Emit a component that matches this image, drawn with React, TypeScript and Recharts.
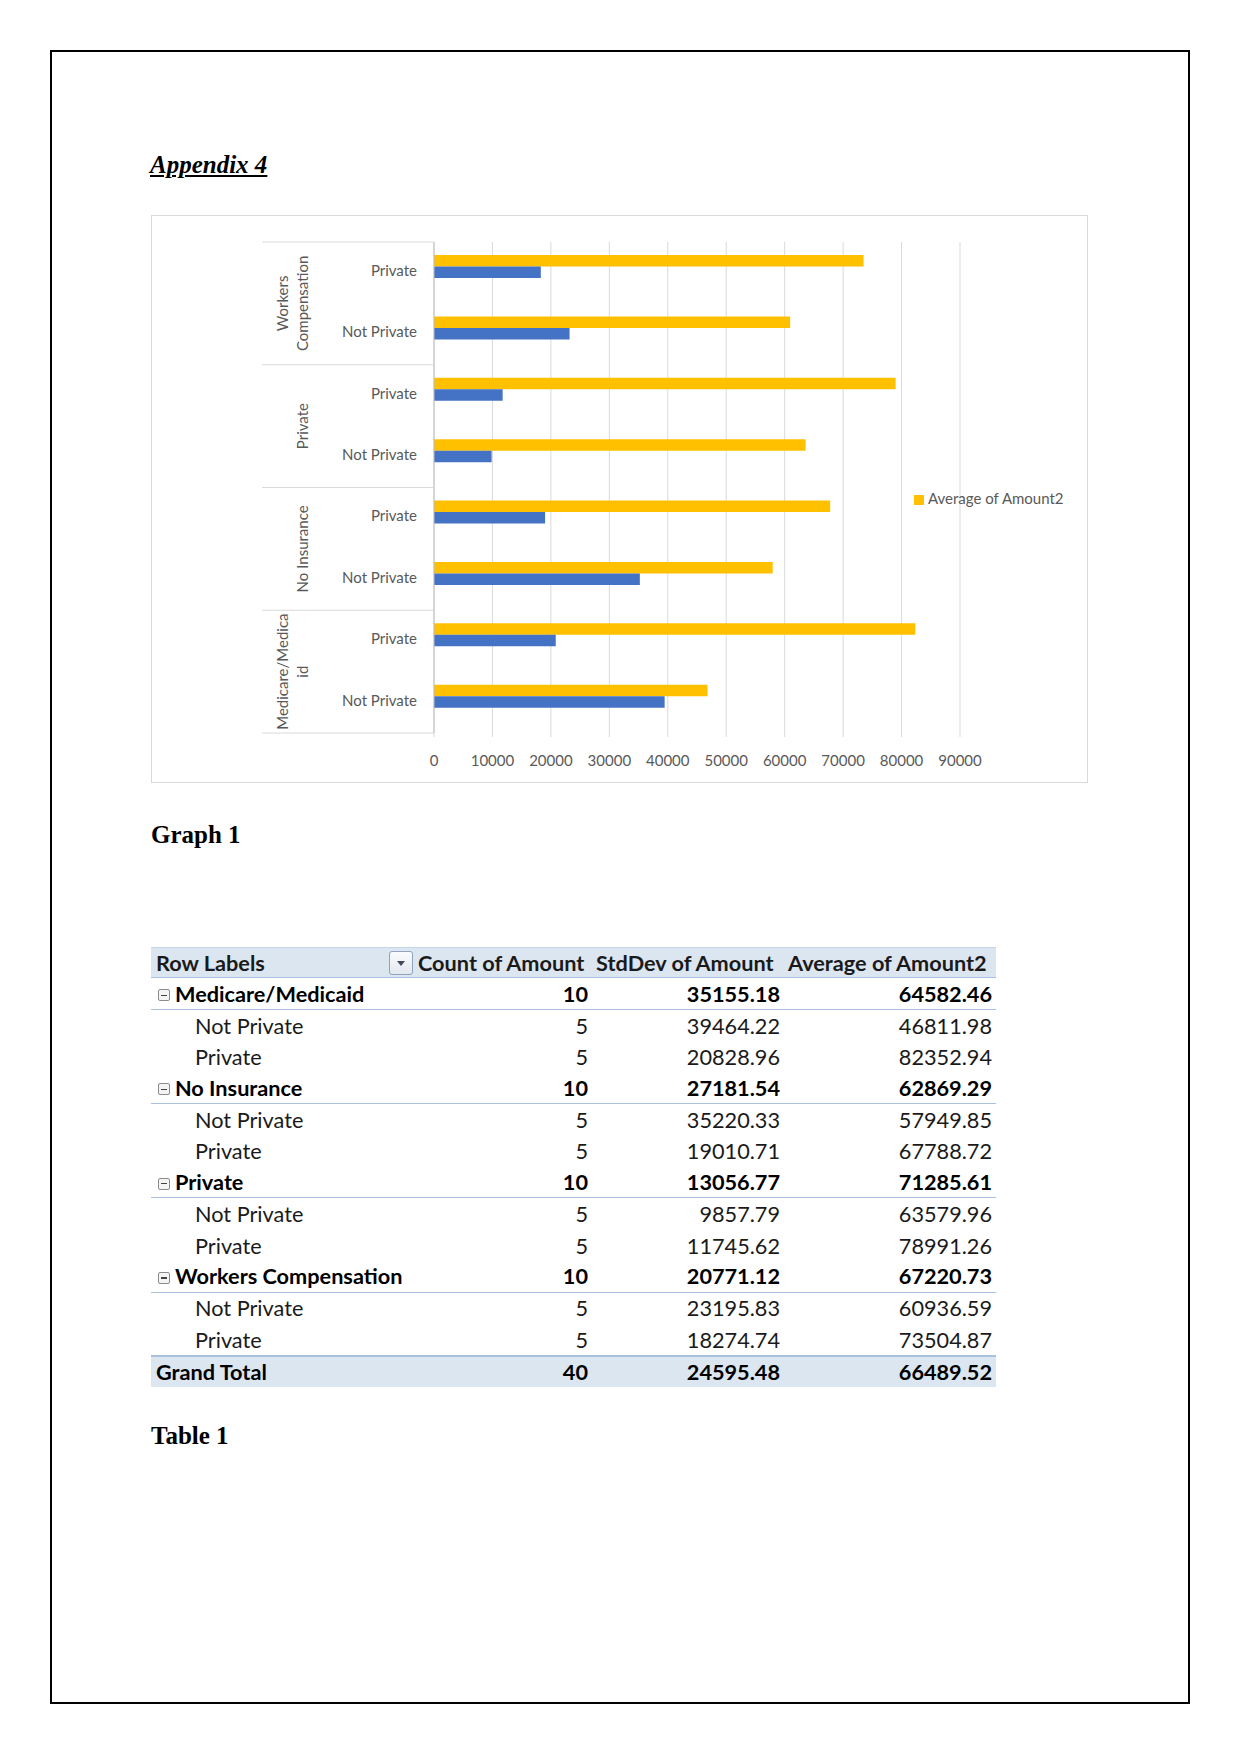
import React from "react";
import { BarChart, Bar, XAxis, YAxis, CartesianGrid, Legend } from "recharts";

// chart rows, top to bottom (as drawn)
const payerGroups = [["Workers", "Compensation"], ["Private"], ["No Insurance"], ["Medicare/Medica", "id"]];
const planTypes = ["Private", "Not Private"];
const averageOfAmount2 = [73504.87, 60936.59, 78991.26, 63579.96, 67788.72, 57949.85, 82352.94, 46811.98];
const stdDevOfAmount = [18274.74, 23195.83, 11745.62, 9857.79, 19010.71, 35220.33, 20828.96, 39464.22];
const countOfAmountBars = [5, 5, 5, 5, 5, 5, 5, 5];
const valueTicks = [0, 10000, 20000, 30000, 40000, 50000, 60000, 70000, 80000, 90000];

// pivot table
const tableHeaders = ["Row Labels", "Count of Amount", "StdDev of Amount", "Average of Amount2"];
const rowLabels = [
  "Medicare/Medicaid", "Not Private", "Private",
  "No Insurance", "Not Private", "Private",
  "Private", "Not Private", "Private",
  "Workers Compensation", "Not Private", "Private",
  "Grand Total",
];
const rowLevels = [0, 1, 1, 0, 1, 1, 0, 1, 1, 0, 1, 1, 2];
const countOfAmount = [10, 5, 5, 10, 5, 5, 10, 5, 5, 10, 5, 5, 40];
const stdDevColumn = [35155.18, 39464.22, 20828.96, 27181.54, 35220.33, 19010.71, 13056.77, 9857.79, 11745.62, 20771.12, 23195.83, 18274.74, 24595.48];
const averageColumn = [64582.46, 46811.98, 82352.94, 62869.29, 57949.85, 67788.72, 71285.61, 63579.96, 78991.26, 67220.73, 60936.59, 73504.87, 66489.52];

const data = averageOfAmount2.map((avg, i) => ({
  key: String(i),
  sub: planTypes[i % 2],
  group: Math.floor(i / 2),
  avg,
  std: stdDevOfAmount[i],
  count: countOfAmountBars[i],
}));

const CHART_W = 935;
const CHART_H = 566;
const PLOT_LEFT = 282;
const PLOT_TOP = 26;
const PLOT_BOTTOM = 517;
const PLOT_RIGHT = 808;
const BAND = (PLOT_BOTTOM - PLOT_TOP) / data.length;
const LABEL = "#595959";
const AXIS_FONT = "Lato, 'Open Sans', sans-serif";

const CategoryTick = (props: any) => {
  const { y, payload } = props;
  const i = Number(payload.value);
  const row = data[i];
  const lines = payerGroups[row.group];
  const top = y - BAND / 2;
  return (
    <g fontFamily={AXIS_FONT} fontSize={15} fill={LABEL}>
      <text x={PLOT_LEFT - 17} y={y - 2} dy="0.35em" textAnchor="end">{row.sub}</text>
      {i % 2 === 0 && (
        <g>
          <line x1={PLOT_LEFT - 172} x2={PLOT_LEFT} y1={top} y2={top} stroke="#d9d9d9" />
          {lines.map((t, k) => {
            const cx = PLOT_LEFT - 131 - (lines.length - 1 - k) * 20;
            const cy = y + BAND / 2;
            return (
              <text key={k} x={cx} y={cy} dy="0.35em" textAnchor="middle" transform={`rotate(-90, ${cx}, ${cy})`}>
                {t}
              </text>
            );
          })}
        </g>
      )}
      {i === data.length - 1 && (
        <line x1={PLOT_LEFT - 172} x2={PLOT_LEFT} y1={y + BAND / 2} y2={y + BAND / 2} stroke="#d9d9d9" />
      )}
    </g>
  );
};

const MinusBox = () => (
  <span style={{ display: "inline-block", width: 12, height: 12, border: "1px solid #8c8c8c", borderRadius: 2, position: "relative", marginRight: 5, background: "#f4f4f4", verticalAlign: "middle", boxSizing: "border-box", top: -1 }}>
    <span style={{ position: "absolute", left: 2, right: 2, top: 4.5, height: 1.2, background: "#444" }} />
  </span>
);

const COLS = [262, 179, 192, 212];
const ROW_H = 440 / 14;

function PivotTable() {
  const font = "Lato, 'Open Sans', sans-serif";
  const cell = (w: number, align: "left" | "right", content: React.ReactNode, extra: React.CSSProperties = {}) => (
    <div style={{ width: w, textAlign: align, padding: align === "right" ? "0 4px 0 0" : "0 0 0 5px", boxSizing: "border-box", whiteSpace: "nowrap", ...extra }}>
      {content}
    </div>
  );
  return (
    <div style={{ position: "absolute", left: 151, top: 947, width: 845, fontFamily: font, fontSize: 21.7, color: "#1a1a1a" }}>
      <div style={{ display: "flex", alignItems: "center", height: ROW_H, background: "#dce6f1", borderTop: "1px solid #c5d5ea", borderBottom: "1px solid #a9c0de", boxSizing: "border-box", fontWeight: 700 }}>
        <div style={{ width: COLS[0], position: "relative", paddingLeft: 5, boxSizing: "border-box" }}>
          {tableHeaders[0]}
          <span style={{ position: "absolute", right: 0, top: "50%", marginTop: -12, width: 24, height: 24, border: "1px solid #8ea3bd", borderRadius: 3, background: "linear-gradient(#fafbfd, #e3e8ef)", boxSizing: "border-box" }}>
            <span style={{ position: "absolute", left: 7, top: 9, width: 0, height: 0, borderLeft: "4px solid transparent", borderRight: "4px solid transparent", borderTop: "5px solid #404a5a" }} />
          </span>
        </div>
        {cell(COLS[1], "left", tableHeaders[1])}
        {cell(COLS[2], "left", tableHeaders[2], { paddingLeft: 4 })}
        {cell(COLS[3], "left", tableHeaders[3], { paddingLeft: 4 })}
      </div>
      {rowLabels.map((label, i) => {
        const lvl = rowLevels[i];
        const style: React.CSSProperties = { display: "flex", alignItems: "center", height: ROW_H, boxSizing: "border-box" };
        if (lvl === 0) { style.fontWeight = 700; style.borderBottom = "1px solid #a9c0de"; style.color = "#000"; }
        if (lvl === 2) { style.fontWeight = 700; style.background = "#dce6f1"; style.borderTop = "2px solid #a9c0de"; style.color = "#000"; }
        return (
          <div key={i} style={style}>
            <div style={{ width: COLS[0], paddingLeft: lvl === 0 ? 7 : lvl === 1 ? 44 : 5, boxSizing: "border-box", whiteSpace: "nowrap" }}>
              {lvl === 0 && <MinusBox />}
              {label}
            </div>
            {cell(COLS[1], "right", String(countOfAmount[i]))}
            {cell(COLS[2], "right", stdDevColumn[i].toFixed(2))}
            {cell(COLS[3], "right", averageColumn[i].toFixed(2))}
          </div>
        );
      })}
    </div>
  );
}

export default function App() {
  const heading: React.CSSProperties = { position: "absolute", left: 150, fontSize: 25, lineHeight: "25px", fontWeight: 700, fontFamily: "'Liberation Serif', 'Times New Roman', serif", color: "#000", margin: 0 };
  return (
    <div style={{ position: "absolute", left: 0, top: 0, width: 1241, height: 1754, background: "#fff" }}>
      <div style={{ position: "absolute", left: 50, top: 50, width: 1140, height: 1654, border: "2px solid #000", boxSizing: "border-box" }} />
      <div style={{ ...heading, top: 152, fontStyle: "italic", textDecoration: "underline" }}>Appendix 4</div>

      <div style={{ position: "absolute", left: 151, top: 215, width: 937, height: 568, border: "1px solid #d9d9d9", boxSizing: "border-box", background: "#fff" }}>
        <BarChart
          width={CHART_W}
          height={CHART_H}
          data={data}
          layout="vertical"
          margin={{ top: PLOT_TOP, right: CHART_W - PLOT_RIGHT, bottom: 0, left: 0 }}
          barGap={0}
          barSize={11.5}
        >
          <CartesianGrid horizontal={false} stroke="#d9d9d9" />
          <XAxis
            type="number"
            domain={[0, 90000]}
            ticks={valueTicks}
            interval={0}
            height={CHART_H - PLOT_BOTTOM}
            axisLine={false}
            tickLine={{ stroke: "#d9d9d9" }}
            tickSize={4}
            tickMargin={18}
            tick={{ fill: LABEL, fontSize: 15, fontFamily: AXIS_FONT }}
          />
          <YAxis
            type="category"
            dataKey="key"
            width={PLOT_LEFT}
            interval={0}
            axisLine={{ stroke: "#bfbfbf" }}
            tickLine={false}
            tick={<CategoryTick />}
          />
          <Legend
            layout="horizontal"
            align="center"
            verticalAlign="middle"
            iconType="square"
            iconSize={10}
            wrapperStyle={{ left: 762, top: 273, width: "auto", textAlign: "left" }}
            formatter={(v: any) => <span style={{ color: LABEL, fontSize: 15, fontFamily: AXIS_FONT }}>{v}</span>}
          />
          <Bar dataKey="avg" name="Average of Amount2" fill="#FFC000" isAnimationActive={false} />
          <Bar dataKey="std" name="StdDev of Amount" fill="#4472C4" legendType="none" isAnimationActive={false} />
          <Bar dataKey="count" name="Count of Amount" fill="#A5A5A5" legendType="none" isAnimationActive={false} />
        </BarChart>
      </div>

      <div style={{ ...heading, top: 822, left: 151 }}>Graph 1</div>
      <PivotTable />
      <div style={{ ...heading, top: 1423, left: 151 }}>Table 1</div>
    </div>
  );
}
